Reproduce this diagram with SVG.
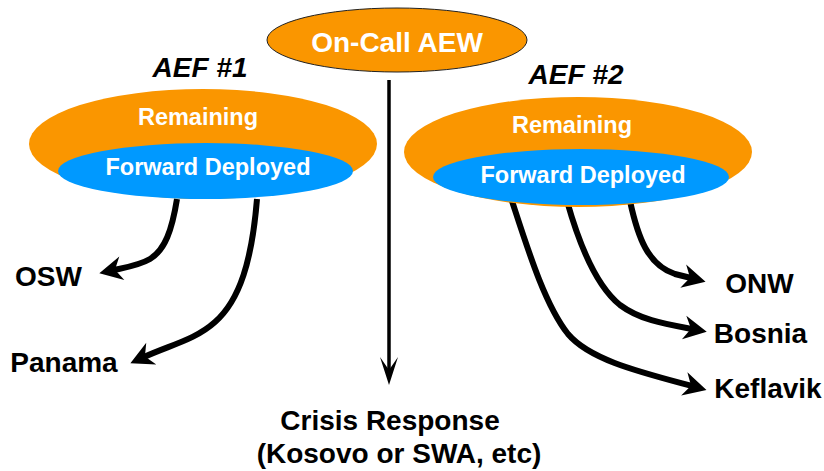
<svg xmlns="http://www.w3.org/2000/svg" width="824" height="471" viewBox="0 0 824 471">
<style>
.t{font-family:"Liberation Sans",Arial,sans-serif;font-weight:bold;text-anchor:middle}
.w{fill:#fff;font-size:23.5px}
.k{fill:#000;font-size:28px}
.orange{fill:#FA9600}
.blue{fill:#0099FF}
.cv{fill:none;stroke:#000;stroke-width:6;marker-end:url(#ah)}
.vt{fill:none;stroke:#000;stroke-width:3.5;marker-end:url(#ahv)}
</style>
<defs>
<marker id="ah" markerUnits="userSpaceOnUse" viewBox="-10 -14 28 28" markerWidth="28" markerHeight="28" refX="0" refY="0" orient="auto">
<path d="M15,0 L-8,-12 L-1,0 L-8,12 Z" fill="#000"/>
</marker>
<marker id="ahv" markerUnits="userSpaceOnUse" viewBox="-16 -12 34 24" markerWidth="34" markerHeight="24" refX="0" refY="0" orient="auto">
<path d="M14,0 L-14,-9 L-1,0 L-14,9 Z" fill="#000"/>
</marker>
</defs>
<g id="connectors">
<path class="vt" d="M389,80 L389,371"/>
<path class="cv" d="M177,199 C172,230 165,250 150,259 C140,265 128,267 114,270"/>
<path class="cv" d="M257,199 C252,260 240,300 215,322 C195,340 170,345 144,357"/>
<path class="cv" d="M512,201 C528,250 545,305 568,334 C590,360 640,372 692,386"/>
<path class="cv" d="M567,201 C578,240 595,285 620,305 C640,320 665,324 692,329"/>
<path class="cv" d="M630,201 C638,238 648,265 675,274 L691,278"/>
</g>
<g id="oncall">
<ellipse cx="397" cy="40" rx="130" ry="32" class="orange" stroke="#222" stroke-width="1"/>
<text x="397" y="52" class="t" fill="#fff" font-size="28">On-Call AEW</text>
</g>
<g id="aef1">
<text x="200" y="77" class="t k" font-style="italic" font-size="27">AEF #1</text>
<ellipse cx="203" cy="144" rx="174" ry="55" class="orange"/>
<text x="198" y="125" class="t w">Remaining</text>
<ellipse cx="205.5" cy="171" rx="147.5" ry="28" class="blue"/>
<text x="208" y="175" class="t w">Forward Deployed</text>
</g>
<g id="aef2">
<text x="576" y="84" class="t k" font-style="italic" font-size="27">AEF #2</text>
<ellipse cx="578" cy="152" rx="174" ry="55" class="orange"/>
<text x="572" y="133" class="t w">Remaining</text>
<ellipse cx="581" cy="177" rx="148" ry="28" class="blue"/>
<text x="583" y="183" class="t w">Forward Deployed</text>
</g>
<g id="osw"><text x="48.5" y="286" class="t k">OSW</text></g>
<g id="panama"><text x="64" y="372" class="t k">Panama</text></g>
<g id="onw"><text x="759.5" y="293" class="t k">ONW</text></g>
<g id="bosnia"><text x="760.5" y="343" class="t k">Bosnia</text></g>
<g id="keflavik"><text x="768" y="398" class="t k">Keflavik</text></g>
<g id="crisis">
<text x="390" y="430" class="t k" font-size="27">Crisis Response</text>
<text x="399" y="463" class="t k" font-size="27">(Kosovo or SWA, etc)</text>
</g>
</svg>
